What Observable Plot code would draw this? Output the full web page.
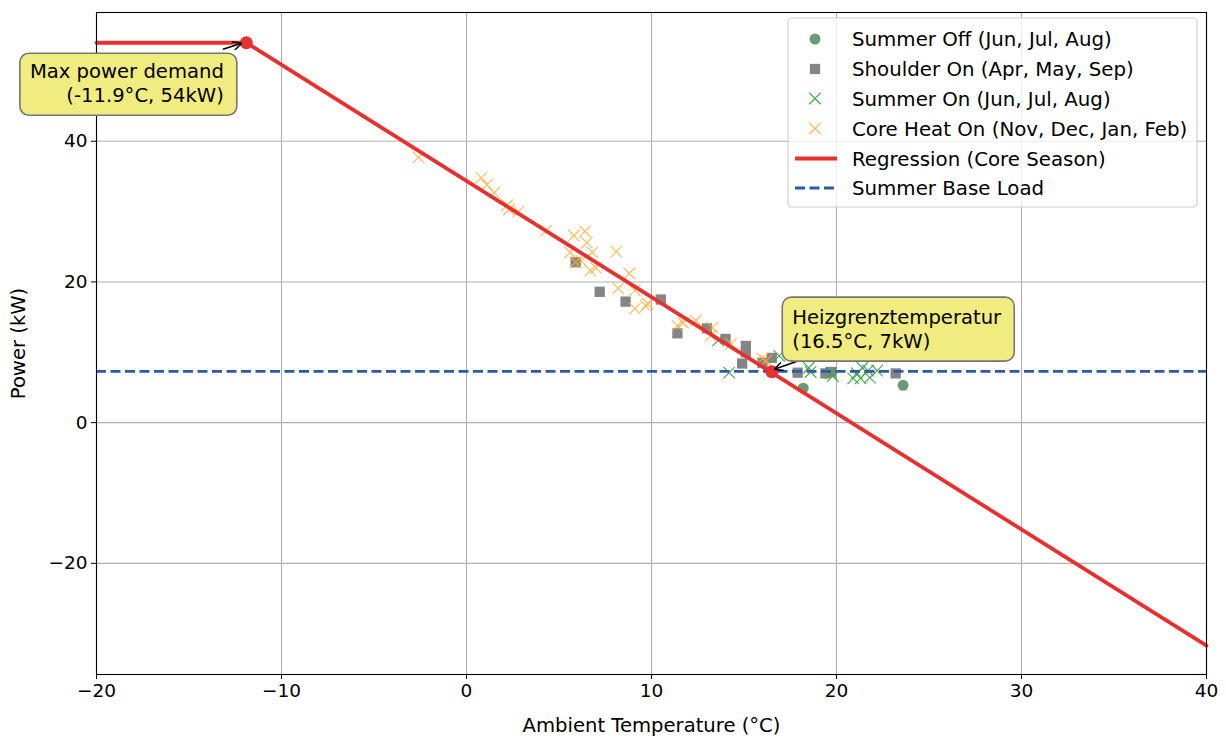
<!DOCTYPE html>
<html><head><meta charset="utf-8">
<script src="https://cdn.jsdelivr.net/npm/d3@7"></script>
<script src="https://cdn.jsdelivr.net/npm/@observablehq/plot@0.6"></script>
<style>body{margin:0;background:#fff;} svg{display:block;}</style>
</head><body><div id="chart"></div>
<script>
// ---- data ----
const xTicks = [-20, -10, 0, 10, 20, 30, 40];
const yTicks = [-20, 0, 20, 40];

const summerOffT = [18.2, 23.6];
const summerOffP = [4.9, 5.3];

const shoulderT = [5.9, 7.2, 8.6, 10.5, 11.4, 13.0, 14.0, 15.1, 15.1, 14.9, 16.0, 16.5, 17.9, 19.4, 19.7, 23.2];
const shoulderP = [22.8, 18.6, 17.2, 17.5, 12.7, 13.4, 11.9, 10.9, 10.0, 8.4, 8.5, 9.2, 7.1, 7.0, 7.2, 7.0];

const summerOnT = [14.2, 13.6, 16.9, 18.5, 18.6, 19.7, 19.8, 20.9, 21.1, 21.3, 21.4, 21.7, 21.8, 22.2];
const summerOnP = [7.1, 11.7, 9.5, 7.8, 7.2, 7.0, 6.6, 6.3, 7.0, 6.3, 7.8, 7.4, 6.4, 7.4];

const coreT = [-2.6, 0.8, 1.1, 1.5, 2.2, 2.3, 2.8, 4.3, 5.8, 6.4, 6.5, 5.6, 6.8, 6.2, 5.9, 6.7, 7.0, 8.1, 8.8, 8.2, 9.1, 9.1, 9.8, 9.7, 11.4, 11.7, 12.4, 13.3, 13.2, 14.3, 16.0, 16.2];
const coreP = [37.7, 34.8, 33.8, 32.7, 30.9, 30.3, 30.0, 27.3, 26.6, 27.2, 25.6, 24.2, 24.2, 23.0, 22.8, 21.6, 22.0, 24.3, 21.2, 19.1, 18.8, 16.2, 16.9, 16.6, 13.8, 14.2, 14.5, 13.5, 12.4, 11.2, 9.1, 8.8];

const regressionT = [-11.9, 40];
const regressionP = [54, -31.7];
const capT = [-20, -11.9];
const capP = [54, 54];
const baseLoad = 7.3;

const maxPoint = {t: -11.9, p: 54};
const heizPoint = {t: 16.5, p: 7.25};

const legendLabels = ["Summer Off (Jun, Jul, Aug)", "Shoulder On (Apr, May, Sep)", "Summer On (Jun, Jul, Aug)", "Core Heat On (Nov, Dec, Jan, Feb)", "Regression (Core Season)", "Summer Base Load"];

// ---- colours / styles ----
const C = {off: "#6a9a77", shoulder: "#858585", sOn: "#3eab45", core: "#ffac33", red: "#e8302f", blue: "#2a5aa8"};
const zip = (a, b) => a.map((t, i) => ({t, p: b[i]}));

const FONT = "DejaVu Sans";
const chart = Plot.plot({
  width: 1226, height: 738,
  marginLeft: 96, marginRight: 20, marginTop: 12, marginBottom: 64,
  x: {domain: [-20, 40]},
  y: {domain: [-35.8, 58.3]},
  style: {fontFamily: FONT, fontSize: "18px", background: "white", color: "black"},
  marks: [
    Plot.gridX(xTicks, {stroke: "#b0b0b0", strokeOpacity: 1, strokeWidth: 1.1}),
    Plot.gridY(yTicks, {stroke: "#b0b0b0", strokeOpacity: 1, strokeWidth: 1.1}),
    Plot.dot(zip(summerOffT, summerOffP), {x: "t", y: "p", r: 5.5, symbol: "circle", fill: C.off, stroke: "none"}),
    Plot.dot(zip(shoulderT, shoulderP), {x: "t", y: "p", r: 5.8, symbol: "square", fill: C.shoulder, stroke: "none"}),
    Plot.dot(zip(summerOnT, summerOnP), {x: "t", y: "p", r: 5.3, symbol: "times", fill: "none", stroke: C.sOn, strokeWidth: 1.1}),
    Plot.dot(zip(coreT, coreP), {x: "t", y: "p", r: 5.3, symbol: "times", fill: "none", stroke: C.core, strokeOpacity: 0.85, strokeWidth: 1.1}),
    Plot.line(zip(regressionT, regressionP), {x: "t", y: "p", stroke: C.red, strokeWidth: 3.8}),
    Plot.line(zip(capT, capP), {x: "t", y: "p", stroke: C.red, strokeWidth: 3.8}),
    Plot.ruleY([baseLoad], {stroke: C.blue, strokeWidth: 2.8, strokeDasharray: "10,4.5"}),
    Plot.dot([maxPoint, heizPoint], {x: "t", y: "p", r: 6.5, fill: C.red, stroke: "none"}),
    Plot.frame({stroke: "black", strokeWidth: 1.1}),
    Plot.axisX(xTicks, {tickSize: 5, tickPadding: 4, fontSize: 18.5, label: null}),
    Plot.axisY(yTicks, {tickSize: 5, tickPadding: 4, fontSize: 18.5, label: null}),
    Plot.text(["Ambient Temperature (°C)"], {text: d => d, frameAnchor: "bottom", dy: 51, lineAnchor: "middle", fontSize: 19.6}),
    Plot.text(["Power (kW)"], {text: d => d, frameAnchor: "left", dx: -78, rotate: -90, textAnchor: "middle", lineAnchor: "middle", fontSize: 19.6})
  ]
});
document.getElementById("chart").appendChild(chart);

// ---- overlays positioned through the plot's scales ----
const sx = chart.scale("x"), sy = chart.scale("y");
const svg = d3.select(chart);
const defs = svg.append("defs");
defs.append("marker").attr("id", "arr").attr("viewBox", "0 0 10 10").attr("refX", 10).attr("refY", 5)
  .attr("markerWidth", 9).attr("markerHeight", 9).attr("markerUnits", "userSpaceOnUse").attr("orient", "auto")
  .append("path").attr("d", "M0,0 L10,5 L0,10").attr("fill", "none").attr("stroke", "black").attr("stroke-width", 1.6);

function annotate(pt, box, lines, anchor, tx, arrowFrom, arrowTo) {
  const px = sx.apply(pt.t), py = sy.apply(pt.p);
  const g = svg.append("g");
  g.append("path").attr("d", `M${px + arrowFrom[0]},${py + arrowFrom[1]} L${px + arrowTo[0]},${py + arrowTo[1]}`)
    .attr("stroke", "black").attr("stroke-width", 1.6).attr("fill", "none").attr("marker-end", "url(#arr)");
  g.append("rect").attr("x", px + box[0]).attr("y", py + box[1]).attr("width", box[2]).attr("height", box[3])
    .attr("rx", 9).attr("fill", "#f1ec80").attr("stroke", "#767676").attr("stroke-width", 1.6);
  lines.forEach((s, i) => {
    g.append("text").attr("x", px + tx[0]).attr("y", py + tx[1] + i * 24).attr("text-anchor", anchor)
      .attr("font-family", FONT).attr("font-size", 19.6).attr("fill", "black").text(s);
  });
}
annotate(maxPoint, [-226, 11, 217, 62], ["Max power demand", "(-11.9°C, 54kW)"], "end", [-22, 36], [-23, 7], [-4, 1]);
annotate(heizPoint, [11, -74, 232, 64], ["Heizgrenztemperatur", "(16.5°C, 7kW)"], "start", [21, -47], [26, -10], [3, -2]);

// ---- legend ----
const lg = svg.append("g").attr("text-anchor", "start");
lg.append("rect").attr("x", 788).attr("y", 18).attr("width", 409).attr("height", 189).attr("rx", 4)
  .attr("fill", "white").attr("fill-opacity", 0.8).attr("stroke", "#cccccc").attr("stroke-width", 1.1);
const rowY = [39, 69, 98.5, 128.5, 158.5, 188];
const sym = (type, r) => d3.symbol(type, r * r * Math.PI)();
lg.append("path").attr("transform", `translate(815,${rowY[0]})`).attr("d", sym(d3.symbolCircle, 5.5)).attr("fill", C.off);
lg.append("path").attr("transform", `translate(815,${rowY[1]})`).attr("d", sym(d3.symbolSquare, 5.8)).attr("fill", C.shoulder);
lg.append("path").attr("transform", `translate(815,${rowY[2]})`).attr("d", sym(d3.symbolTimes, 5.3)).attr("fill", "none").attr("stroke", C.sOn).attr("stroke-width", 1.1);
lg.append("path").attr("transform", `translate(815,${rowY[3]})`).attr("d", sym(d3.symbolTimes, 5.3)).attr("fill", "none").attr("stroke", C.core).attr("stroke-opacity", 0.85).attr("stroke-width", 1.1);
lg.append("line").attr("x1", 795).attr("x2", 837).attr("y1", rowY[4]).attr("y2", rowY[4]).attr("stroke", C.red).attr("stroke-width", 3.8);
lg.append("line").attr("x1", 795).attr("x2", 837).attr("y1", rowY[5]).attr("y2", rowY[5]).attr("stroke", C.blue).attr("stroke-width", 2.8).attr("stroke-dasharray", "10,4.5");
legendLabels.forEach((s, i) => {
  lg.append("text").attr("x", 852).attr("y", rowY[i]).attr("dy", "0.36em").attr("text-anchor", "start").attr("font-family", FONT)
    .attr("font-size", 19.8).attr("fill", "black").text(s);
});
</script>
</body></html>
